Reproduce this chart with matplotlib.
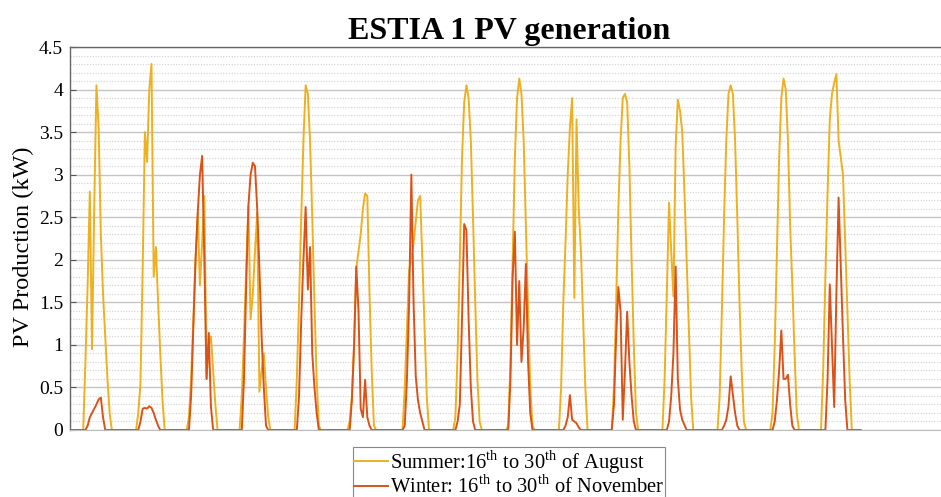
import numpy as np
import matplotlib
matplotlib.use("Agg")
import matplotlib.pyplot as plt
from matplotlib.ticker import MultipleLocator, FormatStrFormatter

# hourly PV output in kW, one row per day (15 days)
SUMMER_FIRST_HOUR = 5   # each summer row covers 05:00 .. 19:00
WINTER_FIRST_HOUR = 6   # each winter row covers 06:00 .. 17:00

summer_kw = [
    [0, 0, 0.8, 1.7, 2.8, 0.95, 2.6, 4.05, 3.55, 2.3, 1.6, 1.1, 0.6, 0.2, 0],
    [0, 0, 0.2, 0.55, 1.9, 3.5, 3.15, 4.0, 4.3, 1.8, 2.15, 1.5, 0.9, 0.35, 0],
    [0, 0.15, 0.6, 1.3, 2.0, 2.55, 1.7, 2.2, 2.75, 0.6, 1.0, 1.1, 0.7, 0.3, 0],
    [0, 0.4, 1.1, 1.9, 2.63, 1.3, 1.6, 2.1, 2.55, 0.45, 0.7, 0.9, 0.5, 0.15, 0],
    [0, 0, 0.6, 1.5, 2.5, 3.4, 4.05, 3.95, 3.4, 2.5, 1.5, 0.6, 0.05, 0, 0],
    [0, 0, 0.1, 0.4, 1.0, 1.9, 2.1, 2.3, 2.6, 2.78, 2.75, 1.6, 0.7, 0.05, 0],
    [0, 0, 0, 0.5, 1.2, 1.88, 2.0, 2.2, 2.45, 2.7, 2.75, 2.0, 1.2, 0.4, 0],
    [0, 0, 0.15, 0.9, 2.0, 3.2, 3.85, 4.05, 3.9, 3.4, 2.5, 1.5, 0.6, 0.1, 0],
    [0, 0, 0.05, 0.8, 2.0, 3.2, 3.9, 4.13, 3.95, 3.4, 2.4, 1.4, 0.5, 0.05, 0],
    [0, 0, 0.5, 1.5, 2.2, 3.0, 3.55, 3.9, 1.55, 3.65, 2.6, 2.1, 1.3, 0.5, 0],
    [0, 0, 0.5, 1.5, 2.6, 3.4, 3.9, 3.95, 3.85, 3.1, 2.0, 1.0, 0.2, 0, 0],
    [0, 0.6, 1.6, 2.67, 2.1, 1.57, 3.33, 3.88, 3.75, 3.5, 2.8, 2.0, 1.2, 0.4, 0],
    [0, 0, 0.4, 1.4, 2.5, 3.4, 3.95, 4.05, 3.95, 3.4, 2.5, 1.5, 0.7, 0.1, 0],
    [0, 0, 0.2, 1.0, 2.1, 3.2, 3.9, 4.13, 4.0, 3.4, 2.4, 1.7, 0.9, 0.2, 0],
    [0, 0.7, 1.8, 2.8, 3.65, 3.95, 4.08, 4.18, 3.4, 3.2, 3.0, 2.2, 1.4, 0.6, 0],
]

winter_kw = [
    [0, 0, 0.05, 0.15, 0.2, 0.25, 0.3, 0.36, 0.38, 0.15, 0, 0],
    [0, 0, 0.1, 0.25, 0.26, 0.25, 0.28, 0.26, 0.2, 0.12, 0.05, 0],
    [0, 0.4, 1.2, 2.0, 2.55, 3.0, 3.22, 2.0, 0.6, 1.14, 0.27, 0],
    [0, 0.6, 1.7, 2.63, 3.0, 3.14, 3.1, 2.6, 1.9, 1.1, 0.5, 0.05],
    [0, 0, 0.4, 1.3, 2.0, 2.62, 1.65, 2.15, 0.9, 0.5, 0.2, 0],
    [0, 0, 0.35, 1.0, 1.92, 1.4, 0.25, 0.15, 0.59, 0.15, 0.05, 0],
    [0, 0, 0.05, 0.6, 1.5, 3.0, 1.5, 0.63, 0.35, 0.2, 0.1, 0],
    [0, 0, 0.1, 0.3, 1.3, 2.42, 2.35, 1.3, 0.5, 0.1, 0, 0],
    [0, 0, 0.6, 1.8, 2.33, 1.0, 1.75, 0.8, 1.2, 1.95, 0.8, 0.2],
    [0, 0, 0, 0.05, 0.15, 0.41, 0.12, 0.1, 0.08, 0.03, 0, 0],
    [0, 0.3, 1.1, 1.68, 1.39, 0.12, 0.7, 1.39, 0.8, 0.4, 0.1, 0],
    [0, 0, 0.1, 0.4, 0.9, 1.92, 0.6, 0.24, 0.12, 0.06, 0, 0],
    [0, 0, 0, 0.05, 0.12, 0.28, 0.63, 0.42, 0.2, 0.05, 0, 0],
    [0, 0, 0.1, 0.35, 0.7, 1.17, 0.6, 0.6, 0.65, 0.3, 0.05, 0],
    [0, 0, 0.6, 1.71, 1.0, 0.27, 1.6, 2.73, 1.9, 1.1, 0.35, 0],
]

series_labels = [
    r"Summer:16$^{\rm th}$ to 30$^{\rm th}$ of August",
    r"Winter: 16$^{\rm th}$ to 30$^{\rm th}$ of November",
]
series_colors = ["#EDB120", "#D95319"]
title_text = "ESTIA 1 PV generation"
ylabel_text = "PV Production (kW)"


def day_profile(rows, first_hour):
    """Lay the daily rows out on one hourly time line (zeros at night)."""
    out = np.zeros(24 * len(rows))
    for d, row in enumerate(rows):
        start = 24 * d + first_hour
        out[start:start + len(row)] = row
    return out


summer = day_profile(summer_kw, SUMMER_FIRST_HOUR)
winter = day_profile(winter_kw, WINTER_FIRST_HOUR)
hours = np.arange(len(summer))

plt.rcParams["font.family"] = ["Liberation Serif", "DejaVu Serif"]
plt.rcParams["mathtext.fontset"] = "custom"
plt.rcParams["mathtext.rm"] = "Liberation Serif"

fig = plt.figure(figsize=(9.41, 4.97), dpi=100)
ax = fig.add_axes([70 / 941, 67 / 497, 871 / 941, 383 / 497])

ax.plot(hours, summer, color=series_colors[0], lw=1.4, label=series_labels[0])
ax.plot(hours, winter, color=series_colors[1], lw=1.4, label=series_labels[1])

ax.set_xlim(0, 395.5)
ax.set_ylim(0, 4.5)
ax.set_xticks([])
ax.yaxis.set_major_locator(MultipleLocator(0.5))
ax.yaxis.set_minor_locator(MultipleLocator(0.1))
ax.yaxis.set_major_formatter(FormatStrFormatter("%g"))
ax.tick_params(axis="y", which="major", direction="in", length=4,
               color="#555555", labelsize=14, pad=5)
ax.tick_params(axis="y", which="minor", length=0)

ax.grid(axis="y", which="major", color="#c4c4c4", lw=1.0)
ax.grid(axis="y", which="minor", color="#cfcfcf", lw=0.8, ls=(0, (1, 1.5)))
ax.set_axisbelow(True)

for side in ["top", "left"]:
    ax.spines[side].set_color("#666666")
    ax.spines[side].set_linewidth(1.0)
ax.spines["bottom"].set_color("#bdbdbd")
ax.spines["right"].set_visible(False)

ax.set_title(title_text, fontsize=23, fontweight="bold", pad=6, x=0.5046)
ax.set_ylabel(ylabel_text, fontsize=17.5)
ax.yaxis.set_label_coords(-0.041, 0.479)

leg = fig.legend(loc="upper center", bbox_to_anchor=(509 / 941, 1 - 447 / 497),
                 fontsize=14.8, frameon=True, fancybox=False, framealpha=1,
                 edgecolor="#888888", handlelength=1.65, handletextpad=0.1,
                 borderpad=0.05, labelspacing=0.0, borderaxespad=0)
leg.get_frame().set_linewidth(0.8)

fig.savefig("out.png", dpi=100)
